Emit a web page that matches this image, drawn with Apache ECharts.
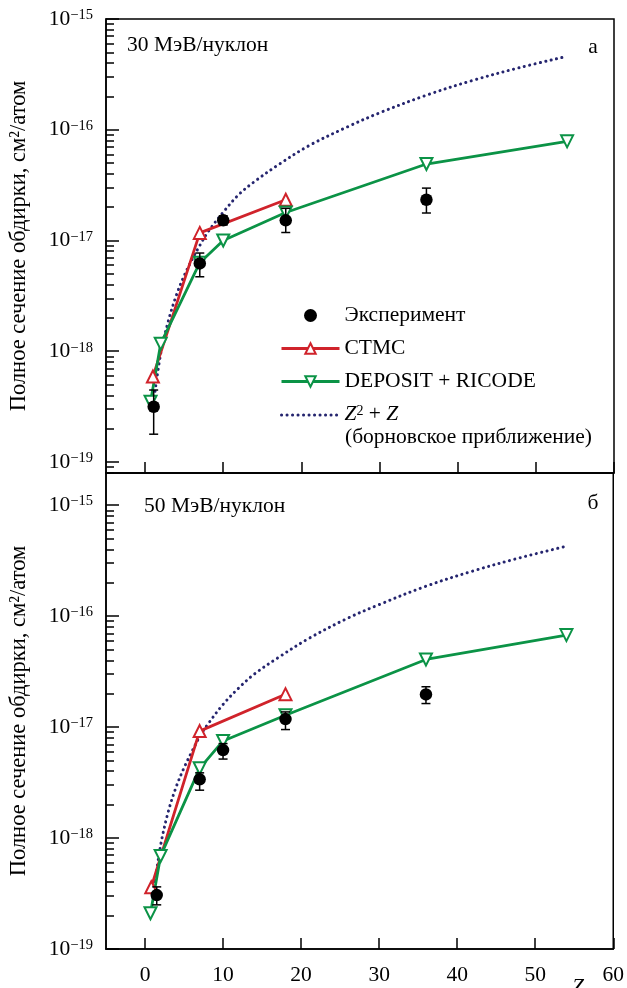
<!DOCTYPE html>
<html>
<head>
<meta charset="utf-8">
<script src="https://cdn.jsdelivr.net/npm/echarts@6/dist/echarts.min.js"></script>
<style>
  html, body { margin: 0; padding: 0; background: #fff; }
  #chart { width: 627px; height: 988px; }
</style>
</head>
<body>
<div id="chart"></div>
<script>
// Axis ticks
const zTicks = [0, 10, 20, 30, 40, 50, 60];
const decadeTicks = [-19, -18, -17, -16, -15];

// 30 MeV/nucleon
const expZ30 = [1.1, 7, 10, 18, 36];
const exp30 = [3.15e-19, 6.2e-18, 1.52e-17, 1.52e-17, 2.33e-17];
const exp30Lo = [1.78e-19, 4.7e-18, 1.38e-17, 1.18e-17, 1.77e-17];
const exp30Hi = [4.46e-19, 7.7e-18, 1.67e-17, 1.95e-17, 2.97e-17];
const ctmcZ30 = [1, 7, 18];
const ctmc30 = [5.9e-19, 1.17e-17, 2.33e-17];
const depZ = [0.7, 2, 7, 10, 18, 36, 54];
const dep30 = [3.5e-19, 1.17e-18, 6.3e-18, 1.0e-17, 1.79e-17, 4.9e-17, 7.85e-17];
const bornZ = [1, 2, 3, 4, 5, 6, 7, 8, 10, 12, 14, 17, 21, 26, 30, 36, 42, 48, 54];
const born30 = [3.1e-19, 9.5e-19, 1.9e-18, 3.2e-18, 4.8e-18, 6.7e-18, 9.0e-18, 1.18e-17, 1.8e-17,
                2.6e-17, 3.4e-17, 4.8e-17, 7.2e-17, 1.07e-16, 1.42e-16, 2.05e-16, 2.8e-16, 3.65e-16, 4.6e-16];

// 50 MeV/nucleon
const expZ50 = [1.5, 7, 10, 18, 36];
const exp50 = [3.06e-19, 3.38e-18, 6.2e-18, 1.18e-17, 1.97e-17];
const exp50Lo = [2.5e-19, 2.7e-18, 5.15e-18, 9.5e-18, 1.63e-17];
const exp50Hi = [3.63e-19, 3.87e-18, 7.1e-18, 1.37e-17, 2.31e-17];
const ctmcZ50 = [0.8, 7, 18];
const ctmc50 = [3.6e-19, 9.2e-18, 1.98e-17];
const dep50 = [2.1e-19, 6.9e-19, 4.25e-18, 7.5e-18, 1.28e-17, 4.07e-17, 6.75e-17];
const born50 = [2.9e-19, 8.6e-19, 1.75e-18, 2.9e-18, 4.3e-18, 6.0e-18, 8.2e-18, 1.05e-17, 1.6e-17,
                2.25e-17, 3.0e-17, 4.2e-17, 6.3e-17, 9.6e-17, 1.27e-16, 1.86e-16, 2.55e-16, 3.35e-16, 4.27e-16];

const SERIF = '"Liberation Serif", "DejaVu Serif", serif';
const FS = 21.5;
const RED = '#d0232b';
const GREEN = '#0b9346';
const NAVY = '#25256f';
const BORN = 'Z² + Z';

// minor log ticks 2..9 inside every decade
const minorTicks = [];
for (let n = -20; n <= -15; n++) {
  for (let k = 2; k <= 9; k++) minorTicks.push(n + Math.log10(k));
}

const pts = (xs, ys) => xs.map((x, i) => [x, Math.log10(ys[i])]);

const axisLineStyle = { color: '#000', width: 1.5 };

function xAxisFor(grid, withLabels) {
  return {
    type: 'value', gridIndex: grid, min: -5, max: 60,
    axisLine: { onZero: false, lineStyle: axisLineStyle },
    axisTick: { inside: true, length: 11, customValues: zTicks, lineStyle: axisLineStyle },
    axisLabel: withLabels
      ? { show: true, customValues: zTicks, margin: 15, fontFamily: SERIF, fontSize: FS, color: '#000' }
      : { show: false },
    splitLine: { show: false }
  };
}

function yMajor(grid, min, max) {
  return {
    type: 'value', gridIndex: grid, position: 'left', min: min, max: max,
    axisLine: { onZero: false, lineStyle: axisLineStyle },
    axisTick: { inside: true, length: 13, customValues: decadeTicks, lineStyle: axisLineStyle },
    axisLabel: {
      customValues: decadeTicks, margin: 13,
      formatter: v => '{b|10}{s|−' + Math.abs(Math.round(v)) + '}',
      rich: {
        b: { fontFamily: SERIF, fontSize: FS, color: '#000', lineHeight: 22, verticalAlign: 'bottom' },
        s: { fontFamily: SERIF, fontSize: 14.5, color: '#000', lineHeight: 14, verticalAlign: 'top' }
      }
    },
    splitLine: { show: false },
    name: 'Полное сечение обдирки, см²/атом',
    nameLocation: 'middle', nameGap: 75, nameRotate: 90,
    nameTextStyle: { fontFamily: SERIF, fontSize: 22.5, color: '#000' }
  };
}

function yMinor(grid, min, max) {
  return {
    type: 'value', gridIndex: grid, position: 'left', min: min, max: max,
    axisLine: { show: false, onZero: false },
    axisTick: { inside: true, length: 8, customValues: minorTicks, lineStyle: axisLineStyle },
    axisLabel: { show: false },
    splitLine: { show: false }
  };
}

function errorBars(grid, xs, lo, hi) {
  return {
    type: 'custom', xAxisIndex: grid, yAxisIndex: grid * 2, z: 4, silent: true,
    data: xs.map((x, i) => [x, Math.log10(lo[i]), Math.log10(hi[i])]),
    renderItem: (params, api) => {
      const a = api.coord([api.value(0), api.value(1)]);
      const b = api.coord([api.value(0), api.value(2)]);
      const w = 4.5;
      const st = { stroke: '#000', lineWidth: 1.5 };
      return {
        type: 'group',
        children: [
          { type: 'line', shape: { x1: a[0], y1: a[1], x2: b[0], y2: b[1] }, style: st },
          { type: 'line', shape: { x1: a[0] - w, y1: a[1], x2: a[0] + w, y2: a[1] }, style: st },
          { type: 'line', shape: { x1: b[0] - w, y1: b[1], x2: b[0] + w, y2: b[1] }, style: st }
        ]
      };
    }
  };
}

function panelSeries(grid, d) {
  const yi = grid * 2;
  return [
    {
      name: BORN, type: 'line', xAxisIndex: grid, yAxisIndex: yi, z: 2,
      data: pts(bornZ, d.born), smooth: 0.35, symbol: 'none', showSymbol: false,
      lineStyle: { color: NAVY, width: 3, type: [0.1, 5.4], cap: 'round' }
    },
    {
      name: 'CTMC', type: 'line', xAxisIndex: grid, yAxisIndex: yi, z: 3,
      data: pts(d.ctmcZ, d.ctmc), symbol: 'emptyTriangle', symbolSize: 12,
      lineStyle: { color: RED, width: 2.8 }, itemStyle: { color: RED, borderWidth: 1.5 }
    },
    {
      name: 'DEPOSIT + RICODE', type: 'line', xAxisIndex: grid, yAxisIndex: yi, z: 3,
      data: pts(depZ, d.dep), symbol: 'emptyTriangle', symbolRotate: 180, symbolSize: 12,
      lineStyle: { color: GREEN, width: 2.8 }, itemStyle: { color: GREEN, borderWidth: 1.5 }
    },
    errorBars(grid, d.expZ, d.lo, d.hi),
    {
      name: 'Эксперимент', type: 'scatter', xAxisIndex: grid, yAxisIndex: yi, z: 5,
      data: pts(d.expZ, d.exp), symbol: 'circle', symbolSize: 12.5,
      itemStyle: { color: '#000', opacity: 1 }
    }
  ];
}

const font = FS + 'px ' + SERIF;

const option = {
  animation: false,
  backgroundColor: '#fff',
  grid: [
    { left: 105, top: 19, width: 509, height: 454, show: true, borderColor: '#000', borderWidth: 1.5 },
    { left: 105, top: 473, width: 509, height: 476, show: true, borderColor: '#000', borderWidth: 1.5 }
  ],
  xAxis: [xAxisFor(0, false), xAxisFor(1, true)],
  yAxis: [yMajor(0, -19.1, -15), yMinor(0, -19.1, -15), yMajor(1, -19, -14.71), yMinor(1, -19, -14.71)],
  legend: {
    left: 275, top: 299.5, orient: 'vertical',
    itemWidth: 58, itemHeight: 13, itemGap: 11, selectedMode: false,
    data: [
      { name: 'Эксперимент', icon: 'circle' },
      { name: 'CTMC', lineStyle: { width: 2.8 } },
      { name: 'DEPOSIT + RICODE', lineStyle: { width: 2.8 } },
      { name: BORN, lineStyle: { width: 3 }, itemStyle: { color: 'rgba(0,0,0,0)', borderColor: 'rgba(0,0,0,0)' } }
    ],
    formatter: n => n === BORN ? '{i|Z}{sup|2}{t| + }{i|Z}' : n,
    textStyle: {
      fontFamily: SERIF, fontSize: FS, color: '#000', lineHeight: 21,
      rich: {
        i: { fontFamily: SERIF, fontSize: FS, fontStyle: 'italic', lineHeight: 21, verticalAlign: 'bottom' },
        sup: { fontFamily: SERIF, fontSize: 14, lineHeight: 13, verticalAlign: 'top' },
        t: { fontFamily: SERIF, fontSize: FS, lineHeight: 21, verticalAlign: 'bottom' }
      }
    }
  },
  graphic: [
    { type: 'text', x: 127, y: 45, style: { text: '30 МэВ/нуклон', verticalAlign: 'middle', font: font, fill: '#000' } },
    { type: 'text', x: 144, y: 506, style: { text: '50 МэВ/нуклон', verticalAlign: 'middle', font: font, fill: '#000' } },
    { type: 'text', x: 593, y: 47, style: { text: 'а', align: 'center', verticalAlign: 'middle', font: font, fill: '#000' } },
    { type: 'text', x: 593, y: 503, style: { text: 'б', align: 'center', verticalAlign: 'middle', font: font, fill: '#000' } },
    { type: 'text', x: 345, y: 437, style: { text: '(борновское приближение)', verticalAlign: 'middle', font: font, fill: '#000' } },
    { type: 'text', x: 578, y: 976, style: { text: 'Z', align: 'center', verticalAlign: 'top', font: 'italic ' + font, fill: '#000' } }
  ],
  series: [].concat(
    panelSeries(0, { born: born30, ctmcZ: ctmcZ30, ctmc: ctmc30, dep: dep30, expZ: expZ30, exp: exp30, lo: exp30Lo, hi: exp30Hi }),
    panelSeries(1, { born: born50, ctmcZ: ctmcZ50, ctmc: ctmc50, dep: dep50, expZ: expZ50, exp: exp50, lo: exp50Lo, hi: exp50Hi })
  )
};

const chart = echarts.init(document.getElementById('chart'), null, { renderer: 'canvas' });
chart.setOption(option);
</script>
</body>
</html>
